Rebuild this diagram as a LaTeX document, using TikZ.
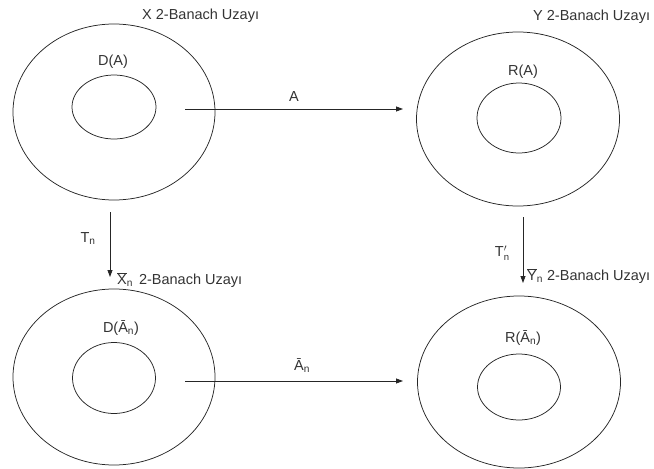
\documentclass[tikz,border=0pt]{standalone}
\usepackage{fontspec}
\setmainfont{Liberation Sans}
\usetikzlibrary{shapes.geometric,arrows.meta}
\newcommand\ovbar[1]{$\overline{\hbox{#1}}$}
\newcommand\sub[1]{\textsubscript{#1}}
\begin{document}
\begin{tikzpicture}[x=1pt,y=-1pt,
  outerset/.style={ellipse,draw=black!85,line width=0.75pt,inner sep=0pt},
  innerset/.style={ellipse,draw=black!85,line width=0.75pt,inner sep=0pt},
  lbl/.style={text=black!80,inner sep=0pt,font=\fontsize{14.5}{16}\selectfont},
  map/.style={draw=black!85,line width=0.75pt,-{Triangle[length=7pt,width=5pt]}}]
\useasboundingbox (0,0) rectangle (654,469);

% the four spaces with their subsets
\node[outerset,minimum width=202pt,minimum height=176pt] (X) at (114,112) {};
\node[innerset,minimum width=84pt,minimum height=64pt] (DA) at (114,107) {};
\node[outerset,minimum width=203pt,minimum height=174pt] (Y) at (518,119) {};
\node[innerset,minimum width=84pt,minimum height=70pt] (RA) at (519,118) {};
\node[outerset,minimum width=202pt,minimum height=176pt] (Xn) at (114,377) {};
\node[innerset,minimum width=83pt,minimum height=71pt] (DAn) at (114,378) {};
\node[outerset,minimum width=203pt,minimum height=172pt] (Yn) at (519,382) {};
\node[innerset,minimum width=83pt,minimum height=66pt] (RAn) at (519,387) {};

% labels
\node[lbl,anchor=west] (tX) at (142,16) {X 2-Banach Uzayı};
\node[lbl] (tDA) at (113,62) {D(A)};
\node[lbl,anchor=west] (tY) at (533,17) {Y 2-Banach Uzayı};
\node[lbl] (tRA) at (523,72) {R(A)};
\node[lbl] (tDAn) at (121,328) {D(Ā\sub{n})};
\node[lbl] (tRAn) at (523,338) {R(Ā\sub{n})};
\node[lbl,anchor=west] (tXn) at (117,280) {\ovbar{X}\sub{n}\hspace{6pt}2-Banach Uzayı};
\node[lbl,anchor=west] (tYn) at (527,276) {\ovbar{Y}\sub{n} 2-Banach Uzayı};

% the maps between them
\coordinate (a1) at (185,109);
\coordinate (a2) at (403,109);
\coordinate (b1) at (185,381);
\coordinate (b2) at (403,381);
\coordinate (c1) at (110,212);
\coordinate (c2) at (110,277);
\coordinate (d1) at (523,217);
\coordinate (d2) at (523,283);
\draw[map] (a1) -- node[lbl,above=7pt] (mA) {A} (a2);
\draw[map] (b1) -- node[lbl,above=8pt,xshift=8pt] (mAn) {Ā\sub{n}} (b2);
\draw[map] (c1) -- node[lbl,left=14pt,yshift=6pt] (mT) {T\sub{n}} (c2);
\draw[map] (d1) -- node[lbl,left=13pt,yshift=-3pt] (mTp) {T$'_{\hbox{\fontsize{9.5}{11}\selectfont n}}$} (d2);
\end{tikzpicture}
\end{document}
